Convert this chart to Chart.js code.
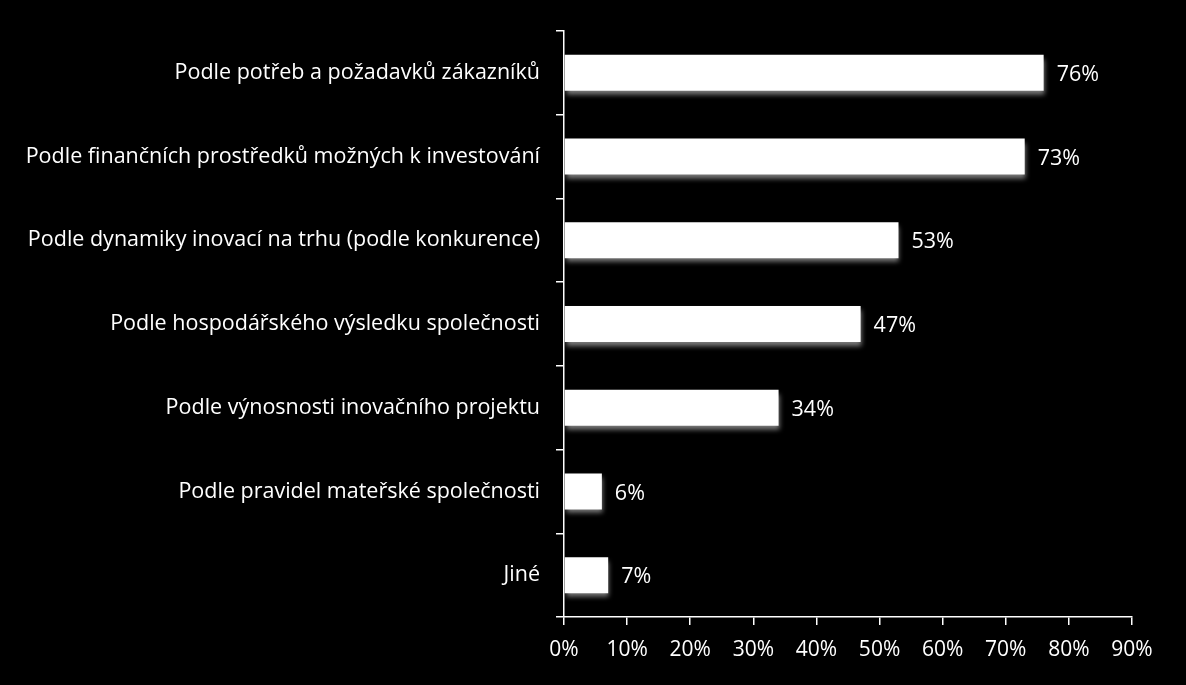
<!DOCTYPE html>
<html><head><meta charset="utf-8">
<script src="https://cdn.jsdelivr.net/npm/chart.js@4"></script>
<style>html,body{margin:0;padding:0;background:#000;}#w{width:1186px;height:685px;}</style>
</head><body><div id="w"><canvas id="c"></canvas></div>
<script>
const categories = [
  "Podle potřeb a požadavků zákazníků",
  "Podle finančních prostředků možných k investování",
  "Podle dynamiky inovací na trhu (podle konkurence)",
  "Podle hospodářského výsledku společnosti",
  "Podle výnosnosti inovačního projektu",
  "Podle pravidel mateřské společnosti",
  "Jiné"
];
const values = [76, 73, 53, 47, 34, 6, 7];
const xTicks = [0, 10, 20, 30, 40, 50, 60, 70, 80, 90];

const FONT = "'Open Sans'";
const shadowPlugin = {
  id: 'shadow',
  beforeDatasetsDraw(chart) {
    const ctx = chart.ctx; ctx.save();
    ctx.shadowColor = 'rgba(140,140,140,0.9)';
    ctx.shadowBlur = 5; ctx.shadowOffsetX = 1; ctx.shadowOffsetY = 4;
  },
  afterDatasetsDraw(chart) {
    chart.ctx.restore();
    const ctx = chart.ctx; ctx.save();
    ctx.fillStyle = '#fff'; ctx.font = '21.5px ' + FONT;
    ctx.textAlign = 'left'; ctx.textBaseline = 'middle';
    chart.getDatasetMeta(0).data.forEach((el, i) => {
      ctx.fillText(values[i] + '%', el.x + 13, el.y + 2);
    });
    ctx.restore();
  }
};
new Chart(document.getElementById('c'), {
  type: 'bar',
  data: { labels: categories, datasets: [{ data: values, backgroundColor: '#fff', borderWidth: 0, categoryPercentage: 0.86, barPercentage: 0.5 }] },
  options: {
    indexAxis: 'y', responsive: true, maintainAspectRatio: false, animation: false,
    layout: { padding: { top: 31, right: 54, left: 0, bottom: 0 } },
    plugins: { legend: { display: false }, tooltip: { enabled: false } },
    scales: {
      x: {
        min: 0, max: 90,
        afterBuildTicks(ax) { ax.ticks = xTicks.map(v => ({ value: v })); },
        afterFit(ax) { ax.height = 68; },
        grid: { display: true, drawOnChartArea: false, color: '#fff', tickLength: 8, lineWidth: 1.5 },
        border: { color: '#fff', width: 1.5 },
        ticks: { color: '#fff', font: { family: FONT, size: 21 }, padding: 12, callback: v => v + '%' }
      },
      y: {
        afterFit(ax) { ax.width = 564; },
        grid: { display: true, drawOnChartArea: false, color: '#fff', tickLength: 8, lineWidth: 1.5, offset: true },
        border: { color: '#fff', width: 1.5 },
        ticks: { color: '#fff', font: { family: FONT, size: 21.5 }, padding: 16 }
      }
    }
  },
  plugins: [shadowPlugin]
});
</script></body></html>
